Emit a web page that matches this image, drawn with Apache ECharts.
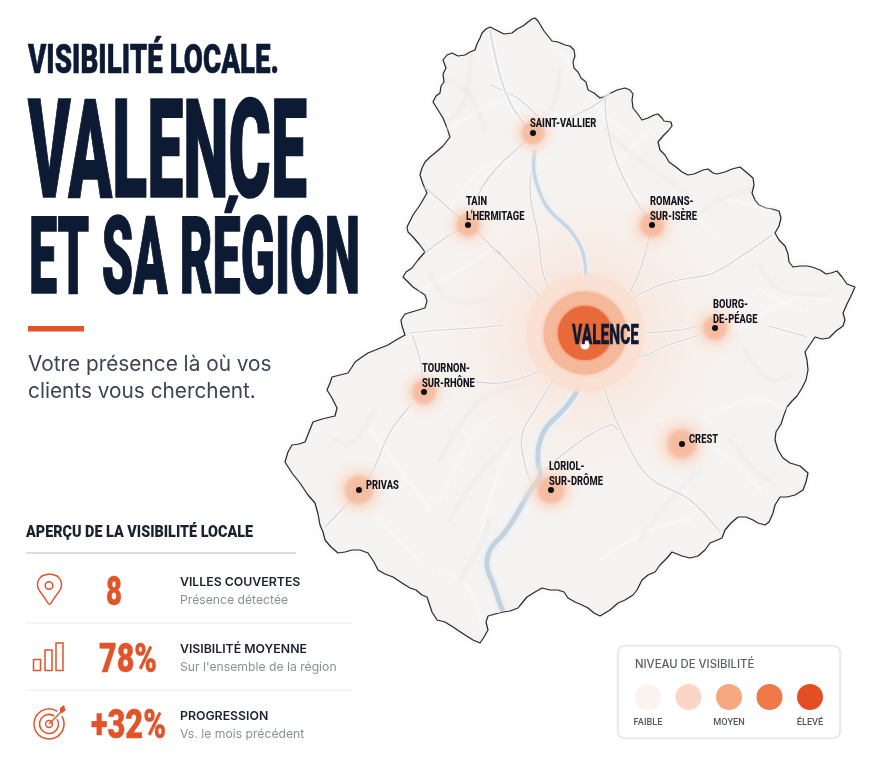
<!DOCTYPE html>
<html><head><meta charset="utf-8">
<style>html,body{margin:0;padding:0;background:#fff}#c{width:869px;height:768px}</style>
<script src="https://cdn.jsdelivr.net/npm/echarts@6/dist/echarts.min.js"></script>
</head><body><div id="c"></div>
<script>
// ---- data, in map units ----
const cityNames = ['Saint-Vallier','Tain','Romans','Bourg','Tournon','Privas','Loriol','Crest'];
const cityLabels = [['SAINT-VALLIER'],['TAIN',"L'HERMITAGE"],['ROMANS-','SUR-ISÈRE'],['BOURG-','DE-PÉAGE'],['TOURNON-','SUR-RHÔNE'],['PRIVAS'],['LORIOL-','SUR-DRÔME'],['CREST']];
const cityX = [533,468,652,715,424,359,551,682];
const cityY = [133,225,225,328,392,490,490,444];
const cityVisibility = [42,42,44,44,44,52,50,54];
const hubName = 'VALENCE';
const hubPoint = [585,333];
const legendTitle = 'NIVEAU DE VISIBILITÉ';
const legendLevels = ['FAIBLE','','MOYEN','','ÉLEVÉ'];
const legendColors = ['#fbf3ee','#fbd6c6','#f6a880','#ef7a47','#e34f22'];
const statValues = ['8','78%','+32%'];
const statTitles = ['VILLES COUVERTES','VISIBILITÉ MOYENNE','PROGRESSION'];
const statNotes = ['Présence détectée',"Sur l'ensemble de la région",'Vs. le mois précédent'];
const outline = [[433,102],[436,96],[440,93],[441,86],[444,82],[443,74],[446,68],[443,60],[447,55],[452,53],[458,56],[465,55],[470,52],[475,50],[477,44],[480,38],[482,33],[486,29],[490,27],[494,29],[498,31],[504,34],[512,33],[517,29],[523,26],[528,22],[532,19],[535,18],[538,21],[541,26],[544,31],[548,36],[552,41],[558,42],[565,45],[570,46],[574,50],[575,56],[573,62],[574,68],[578,72],[581,78],[586,82],[588,90],[594,93],[600,98],[606,96],[611,93],[617,90],[625,88],[630,90],[633,94],[632,100],[633,108],[637,113],[642,120],[648,118],[654,115],[658,114],[662,118],[664,121],[671,122],[672,126],[668,131],[663,136],[658,142],[660,150],[665,155],[669,162],[676,167],[682,172],[688,175],[694,174],[703,170],[708,169],[713,173],[717,174],[725,172],[732,169],[740,167],[746,172],[753,178],[754,185],[752,193],[755,200],[759,205],[766,208],[772,209],[779,211],[781,218],[779,226],[775,233],[779,240],[785,246],[788,254],[789,262],[793,267],[800,266],[807,266],[812,267],[820,270],[826,274],[831,273],[837,271],[842,277],[847,284],[855,287],[851,296],[847,304],[843,313],[845,320],[843,326],[836,331],[829,338],[822,339],[815,337],[811,343],[805,352],[807,360],[808,370],[806,380],[802,388],[797,396],[792,401],[787,407],[784,415],[781,424],[776,432],[775,440],[778,450],[783,458],[790,463],[800,466],[808,473],[806,482],[803,490],[795,495],[787,497],[780,497],[775,505],[773,513],[769,522],[765,525],[758,523],[753,520],[746,517],[738,517],[731,523],[725,530],[722,538],[715,541],[710,543],[705,550],[698,556],[690,558],[682,556],[672,552],[667,558],[660,565],[655,572],[648,575],[642,580],[637,590],[633,595],[625,600],[618,603],[610,610],[600,616],[594,613],[588,608],[582,605],[575,602],[568,598],[564,592],[558,590],[550,590],[542,588],[535,592],[527,597],[522,603],[518,608],[510,611],[503,612],[495,614],[488,616],[486,622],[488,630],[484,637],[480,643],[473,640],[465,635],[459,631],[453,627],[445,622],[437,620],[432,612],[427,597],[422,595],[416,590],[410,588],[402,583],[393,577],[385,574],[378,570],[374,562],[368,553],[360,550],[352,550],[345,552],[338,553],[331,547],[325,540],[323,532],[320,525],[318,514],[315,503],[308,495],[300,483],[292,473],[285,462],[288,452],[292,445],[299,444],[305,442],[309,432],[313,422],[322,419],[335,416],[337,408],[332,398],[327,390],[330,383],[332,377],[340,375],[348,373],[352,367],[355,362],[362,357],[368,353],[378,349],[388,345],[396,340],[405,335],[402,326],[401,320],[405,314],[415,311],[425,308],[427,301],[425,295],[419,291],[413,287],[408,282],[403,277],[406,272],[412,268],[418,260],[425,252],[419,244],[413,237],[408,232],[407,227],[410,221],[413,215],[420,205],[427,193],[423,184],[420,175],[422,168],[425,162],[430,157],[435,153],[443,146],[450,137],[447,128],[443,118],[438,110]];
const riverNorth = [[490,30],[495,55],[503,85],[513,108],[528,128]];
const riverCentre = [[535,150],[534,172],[542,198],[552,213],[570,230],[582,250],[586,275],[585,310]];
const riverSouth = [[584,360],[580,385],[565,408],[546,428],[539,445],[538,462],[540,476],[530,491],[518,512],[505,532],[490,550],[487,566],[494,586],[500,604],[503,611]];
const roads = [
 [[497,250],[515,270],[537,293],[560,315]],
 [[470,225],[500,255]],[[425,187],[445,205],[468,225]],[[425,253],[445,238],[468,225]],
 [[468,225],[478,195],[495,170],[525,142]],
 [[535,150],[530,190],[538,235],[545,280],[565,310]],
 [[652,225],[640,270],[625,300],[605,320]],
 [[605,95],[608,130],[622,175],[652,225]],
 [[545,128],[590,108],[610,93]],
 [[607,345],[637,357],[668,345],[700,335]],
 [[640,333],[680,330],[700,325]],
 [[690,278],[713,273],[740,257],[772,235]],
 [[630,300],[660,285],[690,278]],
 [[768,326],[790,332],[807,337]],
 [[600,375],[612,410],[628,445],[650,478],[690,500],[720,532]],
 [[560,362],[530,375],[500,383],[470,382],[440,388]],
 [[412,335],[420,360],[424,392]],
 [[411,405],[390,432],[372,472],[355,495],[325,527]],
 [[560,370],[535,410],[522,435],[525,465],[532,485]],
 [[410,333],[440,330],[475,328],[503,325]],
 [[545,125],[520,100],[490,85]],
 [[545,470],[575,445],[610,425],[618,430]]
];
const reliefLight = [
 [[480,540],[500,470],[530,420],[560,390]],[[440,500],[470,440],[500,410]],[[370,430],[400,470],[430,510]],
 [[610,170],[650,130]],[[680,200],[720,240]],[[730,200],[770,210]],[[740,330],[790,300],[830,300]],
 [[445,130],[480,110],[500,100]],[[420,290],[460,270],[490,250]],[[700,420],[750,400],[790,410]],
 [[600,560],[650,530],[690,520]],[[340,470],[380,520],[420,560]],[[440,570],[470,590],[480,620]],
 [[450,210],[480,170],[510,160]],[[560,50],[600,110],[625,130]],[[760,290],[800,310]],[[660,420],[720,450],[760,490]]
];
const reliefShade = [
 [[447,80],[470,95],[485,130]],[[470,55],[465,100],[450,120]],[[560,70],[555,100],[545,115]],
 [[605,130],[640,160],[690,195]],[[690,220],[720,200],[750,190]],[[760,265],[780,290],[825,295]],
 [[745,350],[770,380],[790,375]],[[440,460],[480,400],[520,385]],[[335,440],[350,445],[375,410]],
 [[450,520],[475,480],[510,440]],[[460,580],[480,545],[490,520]],[[730,440],[755,470],[770,480]],
 [[430,275],[450,300],[490,300]],[[640,540],[670,500],[700,470]]
];

// ---- drawing ----
const ORANGE = '#e2532a', INK = '#0c1a33', DISPLAY = 'Roboto', TEXT = 'Inter';
const meas = document.createElement('canvas').getContext('2d');
function fit(text, x, y, capH, width, fill, extra) {
  const size = capH / 0.711, font = '900 ' + size + 'px ' + DISPLAY;
  meas.font = font;
  return {type:'text', x, y: y + capH*0.14, scaleX: width / meas.measureText(text).width, z:10,
    style: Object.assign({text, font, fill, verticalAlign:'middle', align:'left'}, extra ? {stroke:fill, lineWidth:extra} : {})};
}
function txt(text, x, y, font, fill) {
  return {type:'text', x, y, z:10, style:{text, font, fill, verticalAlign:'middle', align:'left'}};
}
const iconLine = {stroke:ORANGE, fill:'none', lineWidth:1.5};
const graphics = [
  fit('VISIBILITÉ LOCALE.', 28, 58, 29.5, 251, INK, 0.6),
  fit('VALENCE', 28, 149, 97, 279, INK, 1.5),
  fit('ET SA RÉGION', 29, 256, 76, 331, INK, 1.5),
  {type:'rect', z:10, shape:{x:28,y:326,width:56,height:5.5}, style:{fill:ORANGE}},
  txt('Votre présence là où vos', 28, 365, '20.8px '+TEXT, '#3d4552'),
  txt('clients vous cherchent.', 28, 392, '20.8px '+TEXT, '#3d4552'),
  fit('APERÇU DE LA VISIBILITÉ LOCALE', 26, 531.5, 11.5, 227, '#1a2230'),
  {type:'line', z:10, shape:{x1:26,y1:553,x2:296,y2:553}, style:{stroke:'#d2d2d2', lineWidth:1.5}},
  {type:'line', z:10, shape:{x1:26,y1:623,x2:353,y2:623}, style:{stroke:'#ececec', lineWidth:1}},
  {type:'line', z:10, shape:{x1:26,y1:690,x2:353,y2:690}, style:{stroke:'#ececec', lineWidth:1}},
  // pin icon
  {type:'polygon', z:10, shape:{points:[[49.5,604.5],[44,597],[39,590],[37.5,585],[38.5,580],[42,576],[49.5,574],[57,576],[60.5,580],[61.5,585],[60,590],[55,597]],smooth:0.15}, style:iconLine},
  {type:'circle', z:10, shape:{cx:49,cy:585.5,r:3.8}, style:iconLine},
  // bars icon
  {type:'rect', z:10, shape:{x:33.5,y:659.5,width:7,height:11}, style:iconLine},
  {type:'rect', z:10, shape:{x:45,y:650,width:7,height:20.5}, style:iconLine},
  {type:'rect', z:10, shape:{x:56,y:643,width:7,height:27.5}, style:iconLine},
  // target icon
  {type:'arc', z:10, shape:{cx:49,cy:724,r:15,startAngle:-0.55,endAngle:-1.0,clockwise:true}, style:{stroke:ORANGE,fill:'none',lineWidth:1.5}},
  {type:'arc', z:10, shape:{cx:49,cy:724,r:9.5,startAngle:-0.55,endAngle:-1.0,clockwise:true}, style:{stroke:ORANGE,fill:'none',lineWidth:1.5}},
  {type:'circle', z:10, shape:{cx:49,cy:724,r:3.4}, style:iconLine},
  {type:'line', z:10, shape:{x1:49,y1:724,x2:62,y2:711}, style:{stroke:ORANGE,lineWidth:1.5}},
  {type:'polygon', z:10, shape:{points:[[60,713],[60,708],[64,705],[65,709],[66,710],[62,713]]}, style:{fill:ORANGE}},
  // legend box
  {type:'rect', z:1, shape:{x:618,y:646,width:222,height:92,r:6}, style:{fill:'#fff',stroke:'#e2e2e2',lineWidth:1.2, shadowBlur:4, shadowColor:'rgba(0,0,0,0.05)'}},
  txt(legendTitle, 635, 665, '500 11.3px '+TEXT, '#5b6068')
];
statValues.forEach((v,i)=>{
  const ys=[590.5,657.5,724], xs=[106,99,91], ws=[16,58,75];
  graphics.push(fit(v, xs[i], ys[i], 28.5, ws[i], ORANGE, 0.4));
  const ty=[582,649,716][i];
  graphics.push(txt(statTitles[i],180,ty,'600 12.3px Inter','#1a2230'));
  graphics.push(txt(statNotes[i],180,ty+18,'12.2px Inter','#8b9097'));
});

function pathSeries(paths, style, smooth, z) {
  return {type:'custom', coordinateSystem:'cartesian2d', silent:true, clip:false, z,
    data: paths.map((_,i)=>[i]),
    renderItem(params, api){
      return {type:'polyline', shape:{points:paths[params.dataIndex].map(p=>api.coord(p)), smooth}, style:Object.assign({fill:null},style)};
    }};
}
const cityGlow = {type:'radial',x:.5,y:.5,r:.5,colorStops:[
  {offset:0,color:'rgba(245,178,146,0.92)'},{offset:.36,color:'rgba(246,184,154,0.85)'},{offset:.5,color:'rgba(249,210,190,0.58)'},{offset:.75,color:'rgba(251,228,216,0.36)'},{offset:1,color:'rgba(252,232,222,0)'}]};
const hubGlow = {type:'radial',x:.5,y:.5,r:.5,colorStops:[
  {offset:0,color:'rgba(250,205,180,0.6)'},{offset:.5,color:'rgba(251,226,212,0.42)'},{offset:1,color:'rgba(252,238,228,0)'}]};
const cityData = cityX.map((x,i)=>({name:cityNames[i], value:[x,cityY[i],cityVisibility[i]]}));

const option = {
  animation:false, backgroundColor:'#ffffff',
  grid:{left:0,right:0,top:0,bottom:0},
  xAxis:{type:'value',min:0,max:869,show:false},
  yAxis:{type:'value',min:0,max:768,inverse:true,show:false},
  graphic:{elements:graphics},
  series:[
    {type:'custom', coordinateSystem:'cartesian2d', silent:true, z:1, clip:false, data:[[0]],
     renderItem(params, api){ return {type:'polygon', shape:{points:outline.map(p=>api.coord(p))},
       style:{fill:'#f5f4f3', stroke:'#24282d', lineWidth:1.2, lineJoin:'round', shadowBlur:6, shadowColor:'rgba(0,0,0,0.06)'}}; }},
    pathSeries(reliefLight,{stroke:'rgba(255,255,255,0.3)',lineWidth:4,shadowBlur:12,shadowColor:'rgba(255,255,255,0.9)',lineCap:'round'},.4,2),
    pathSeries(reliefShade,{stroke:'rgba(220,220,220,0.14)',lineWidth:5,shadowBlur:12,shadowColor:'rgba(205,205,205,0.35)',lineCap:'round'},.4,2),
    {type:'scatter', z:3, silent:true, data:[hubPoint], symbolSize:350, itemStyle:{color:hubGlow,opacity:1}},
    pathSeries(roads,{stroke:'rgba(255,255,255,0.55)',lineWidth:3},.4,4),
    pathSeries(roads,{stroke:'#d0d3d7',lineWidth:1.2},.4,4),
    pathSeries([riverNorth],{stroke:'#fff',lineWidth:5,opacity:.6},.4,5),
    pathSeries([riverNorth],{stroke:'#dcdfe4',lineWidth:2.2},.4,5),
    pathSeries([riverCentre],{stroke:'#eef1f4',lineWidth:7},.4,5),
    pathSeries([riverCentre],{stroke:'#c9d6e1',lineWidth:3.4},.4,5),
    pathSeries([riverSouth],{stroke:'#eef1f4',lineWidth:11},.4,5),
    pathSeries([riverSouth],{stroke:'#c3d2df',lineWidth:5},.4,5),
    {type:'scatter', z:6, silent:true, data:cityData, symbolSize:d=>d[2]*1.3,
      itemStyle:{color:cityGlow,opacity:1}},
    {type:'scatter', z:6, silent:true, data:[hubPoint], symbolSize:118, itemStyle:{color:'#fbe0d2',opacity:.75,shadowBlur:6,shadowColor:'#fbe0d2'}},
    {type:'scatter', z:6, silent:true, data:[hubPoint], symbolSize:83, itemStyle:{color:'#f6b89a',opacity:1,shadowBlur:4,shadowColor:'#f6b89a'}},
    {type:'scatter', z:6, silent:true, data:[hubPoint], symbolSize:54, itemStyle:{color:'#e8693a',opacity:1,shadowBlur:3,shadowColor:'#e8693a'}},
    {type:'scatter', z:7, silent:true, data:[[hubPoint[0],hubPoint[1]+12]], symbolSize:9, itemStyle:{color:'#fff',opacity:1}},
    {type:'scatter', z:7, silent:true, data:cityData, symbolSize:6, itemStyle:{color:'#0b0f18',opacity:1}},
    {type:'custom', coordinateSystem:'cartesian2d', silent:true, z:8, clip:false,
      data:cityData.map(d=>d.value),
      renderItem(params, api){
        const i=params.dataIndex, lines=cityLabels[i], p=api.coord([cityX[i],cityY[i]]);
        const single=lines.length===1;
        const dx=single?(i===0?-3:7):-2;
        const base=single?(i===0?-9.5:-4.5):-23.5;
        return {type:'group', children:lines.map((t,k)=>({type:'text', x:p[0]+dx, y:p[1]+base+k*15, scaleX:.73,
          style:{text:t, font:'800 12.8px '+DISPLAY, fill:'#10131b', verticalAlign:'middle', align:'left'}}))};
      }},
    {type:'custom', coordinateSystem:'cartesian2d', silent:true, z:8, clip:false, data:[hubPoint],
      renderItem(params, api){ const p=api.coord(hubPoint);
        const el=fit(hubName,0,0,20,67,INK,0.3); el.x=p[0]-13; el.y=p[1]+3.5; delete el.z; return el; }},
    {type:'scatter', z:8, silent:true, data:legendColors.map((_,i)=>[648+i*40.5,697]), symbolSize:26,
      itemStyle:{opacity:1,color:p=>legendColors[p.dataIndex]},
      label:{show:true, position:'bottom', distance:8, color:'#555a60', fontFamily:'Roboto', fontWeight:500, fontSize:9.2,
        formatter:p=>legendLevels[p.dataIndex]}}
  ]
};
const chart = echarts.init(document.getElementById('c'), null, {renderer:'canvas'});
chart.setOption(option);
</script></body></html>
